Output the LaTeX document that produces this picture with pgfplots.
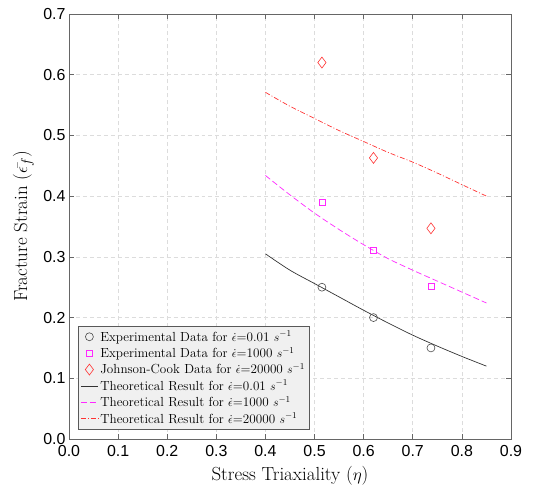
\documentclass[border=0pt]{standalone}
\usepackage{fontspec}
\usepackage{pgfplots}
\pgfplotsset{compat=1.18}
\newfontfamily\ticksans{Liberation Sans}
\definecolor{jcred}{RGB}{255,50,50}
\definecolor{mag}{RGB}{255,40,255}
\definecolor{gridgray}{RGB}{220,220,220}
\definecolor{legfill}{RGB}{240,240,240}

\begin{document}
\begin{tikzpicture}
\useasboundingbox (-69bp,-51bp) rectangle (475bp,439bp);
\begin{axis}[
    at={(0,0)}, anchor=south west,
    scale only axis,
    width=442bp, height=425bp,
    xmin=0, xmax=0.9, ymin=0, ymax=0.7,
    xtick={0,0.1,...,0.9}, ytick={0,0.1,...,0.7},
    tick align=inside,
    axis line style={gray!80!black, line width=0.8pt},
    major tick style={gray!80!black, line width=0.6pt},
    major tick length=5pt,
    grid=major,
    major grid style={gridgray, dash pattern=on 4pt off 3pt, line width=0.6pt},
    /pgf/number format/.cd, fixed, fixed zerofill, precision=1, assume math mode=true,
    /pgfplots/.cd,
    tick label style={font=\ticksans\fontsize{16}{16}\selectfont},
    xticklabel style={yshift=-3pt},
    xlabel={Stress Triaxiality ($\eta$)},
    ylabel={Fracture Strain ($\bar{\epsilon_f}$)},
    label style={font=\fontsize{19}{19}\selectfont},
    xlabel style={at={(axis description cs:0.5,-0.0965)}, anchor=base},
    ylabel style={at={(axis description cs:-0.095,0.5)}, anchor=base},
    legend cell align=left,
    legend style={at={(0.0204,0.0235)}, anchor=south west, fill=legfill,
        draw=gray!70!black, font=\fontsize{13.2}{15}\selectfont,
        row sep=0.8pt, inner sep=2.3pt},
    legend image post style={line width=0.8pt},
]
\addplot[only marks, mark=o, mark size=4pt, black!70, mark options={line width=0.6pt}] coordinates {
    (0.515,0.250) (0.620,0.200) (0.737,0.150)};
\addlegendentry{Experimental Data for $\dot{\epsilon}$=0.01 $s^{-1}$}
\addplot[only marks, mark=square, mark size=3pt, mag, mark options={line width=0.6pt}] coordinates {
    (0.515,0.390) (0.620,0.310) (0.737,0.251)};
\addlegendentry{Experimental Data for $\dot{\epsilon}$=1000 $s^{-1}$}
\addplot[only marks, mark=diamond, mark size=5.5pt, jcred, mark options={line width=0.6pt}] coordinates {
    (0.515,0.620) (0.620,0.463) (0.737,0.347)};
\addlegendentry{Johnson-Cook Data for $\dot{\epsilon}$=20000 $s^{-1}$}
\addplot[smooth, black!80, line width=0.7pt] coordinates {
    (0.40,0.305) (0.45,0.278) (0.50,0.256) (0.55,0.234) (0.60,0.212)
    (0.65,0.191) (0.70,0.171) (0.75,0.153) (0.80,0.136) (0.85,0.120)};
\addlegendentry{Theoretical Result for $\dot{\epsilon}$=0.01 $s^{-1}$}
\addplot[smooth, mag, dash pattern=on 6pt off 3pt, line width=0.7pt] coordinates {
    (0.40,0.434) (0.45,0.402) (0.50,0.372) (0.55,0.345) (0.60,0.320)
    (0.65,0.297) (0.70,0.278) (0.75,0.260) (0.80,0.242) (0.85,0.224)};
\addlegendentry{Theoretical Result for $\dot{\epsilon}$=1000 $s^{-1}$}
\addplot[smooth, jcred, dash pattern=on 5pt off 2pt on 1pt off 2pt, line width=0.7pt] coordinates {
    (0.40,0.571) (0.45,0.548) (0.50,0.528) (0.55,0.508) (0.60,0.490)
    (0.65,0.472) (0.70,0.456) (0.75,0.438) (0.80,0.419) (0.85,0.400)};
\addlegendentry{Theoretical Result for $\dot{\epsilon}$=20000 $s^{-1}$}
\end{axis}
\end{tikzpicture}
\end{document}
